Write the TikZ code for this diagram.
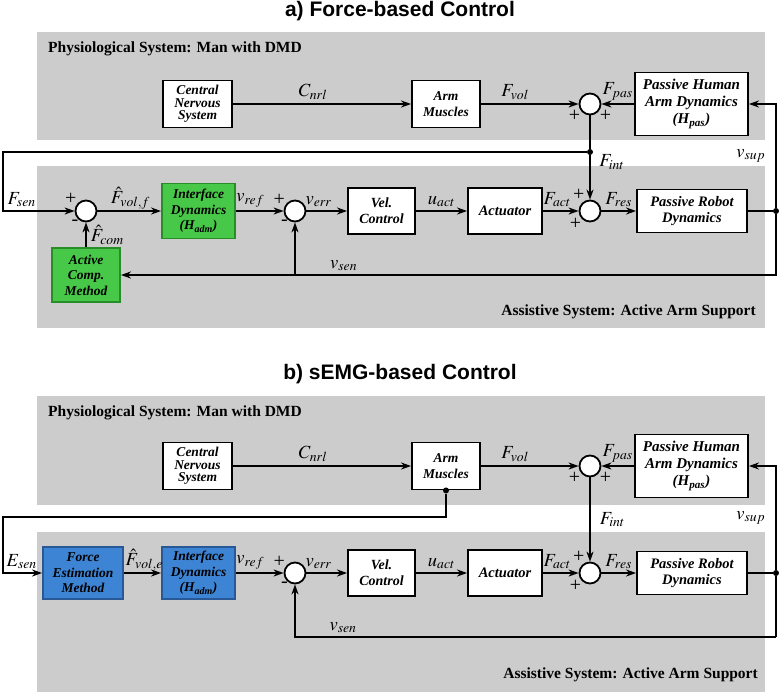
\documentclass[tikz,border=0pt]{standalone}
\usepackage{mathptmx}
\usepackage{fontspec}
\setmainfont{Liberation Serif}
\newfontfamily\boxfont{Liberation Serif}
\newfontfamily\headfont{Liberation Sans}
\usetikzlibrary{arrows.meta, positioning, calc}

\definecolor{panelgray}{RGB}{204,204,204}
\definecolor{boxgreen}{RGB}{72,200,72}
\definecolor{edgegreen}{RGB}{40,140,40}
\definecolor{boxblue}{RGB}{62,132,212}
\definecolor{edgeblue}{RGB}{40,88,150}

\begin{document}
\begin{tikzpicture}[
  x=1pt, y=-1pt,
  panel/.style = {fill=panelgray, anchor=north west, inner sep=0pt, minimum width=728pt},
  block/.style = {draw, line width=1.9pt, fill=white, align=center, inner sep=1pt,
                  font=\boxfont\bfseries\itshape\fontsize{13.5}{15.5}\selectfont},
  greenblock/.style = {block, draw=edgegreen, fill=boxgreen},
  blueblock/.style = {block, draw=edgeblue, fill=boxblue},
  sum/.style = {draw, circle, line width=1.8pt, fill=white, minimum size=21pt, inner sep=0pt},
  dot/.style = {circle, fill, inner sep=0pt, minimum size=6pt},
  sig/.style = {font=\fontsize{18.5}{18.5}\selectfont, inner sep=1pt},
  sign/.style = {font=\boxfont\fontsize{20}{20}\selectfont, inner sep=0pt},
  wire/.style = {line width=1.8pt},
  arrow/.style = {line width=1.8pt, -{Stealth[length=10pt, width=7pt]}},
  title/.style = {font=\headfont\bfseries\fontsize{21}{24}\selectfont},
  group/.style = {font=\boxfont\bfseries\fontsize{15.5}{17}\selectfont, inner sep=0pt}
]
  \useasboundingbox (0,0) rectangle (779,693);

  % a) Force-based Control
  \node[title] (title_a) at (400,11) {a) Force-based Control};
  \node[panel, minimum height=108pt] (phys_a) at (37,32) {};
  \node[panel, minimum height=162pt] (assist_a) at (37,166) {};
  \node[group, anchor=west] (physlbl_a) at (48,49) {Physiological System: Man with DMD};
  \node[group, anchor=east] (assistlbl_a) at (756,312) {Assistive System: Active Arm Support};

  % Physiological row
  \node[block, minimum width=69pt, minimum height=47pt, font=\boxfont\bfseries\itshape\fontsize{13.5}{12.5}\selectfont]
    (cns_a) at (197.5,104) {Central\\Nervous\\System};
  \node[block, minimum width=68pt, minimum height=47pt] (am_a) at (446,104) {Arm\\Muscles};
  \node[sum, label={[sign]212:+}, label={[sign]-32:+}] (s1_a) at (590,104) {};
  \node[block, minimum width=113pt, minimum height=63pt, font=\boxfont\bfseries\itshape\fontsize{15}{17}\selectfont]
    (phad_a) at (691.5,104) {Passive Human\\Arm Dynamics\\(H\textsubscript{pas})};

  % Assistive row
  \node[sum, label={[sign]145:+}, label={[sign]228:-}] (s2_a) at (86,211) {};
  \node[greenblock, minimum width=73pt, minimum height=55pt] (id_a) at (198.5,211) {Interface\\Dynamics\\(H\textsubscript{adm})};
  \node[sum, label={[sign]150:+}, label={[sign]232:-}] (s3_a) at (295,211) {};
  \node[block, minimum width=67pt, minimum height=46pt, font=\boxfont\bfseries\itshape\fontsize{14}{16}\selectfont]
    (vc_a) at (381.5,211) {Vel.\\Control};
  \node[block, minimum width=74pt, minimum height=46pt, font=\boxfont\bfseries\itshape\fontsize{14.5}{16}\selectfont]
    (act_a) at (505,211) {Actuator};
  \node[sum, label={[sign]118:+}, label={[sign]220:+}] (s4_a) at (590,211) {};
  \node[block, minimum width=110pt, minimum height=43pt, font=\boxfont\bfseries\itshape\fontsize{14.5}{16}\selectfont]
    (prd_a) at (692,211) {Passive Robot\\Dynamics};
  \node[greenblock, minimum width=68pt, minimum height=54pt] (acm_a) at (86,275) {Active\\Comp.\\Method};
  \node[dot] (out_a) at (776,211) {};
  \node[dot, label={[sig, label distance=5pt]-8:$F_{int}$}] (fint_a) at (590,152) {};
  \coordinate (corner_a) at (3,152);

  % Connections a
  \draw[arrow] (cns_a) -- (am_a) node[sig, pos=0.45, above=2pt] {$C_{nrl}$};
  \draw[arrow] (am_a) -- (s1_a) node[sig, pos=0.35, above=2pt] {$F_{vol}$};
  \draw[arrow] (phad_a) -- (s1_a) node[sig, midway, above=2pt] {$F_{pas}$};
  \draw[wire] (s1_a) -- (fint_a);
  \draw[arrow] (fint_a) -- (s4_a);
  \draw[arrow] (fint_a) -- (corner_a) |- (s2_a) node[sig, pos=0.63, above=2pt] {$F_{sen}$};
  \draw[arrow] (s2_a) -- (id_a) node[sig, pos=0.52, above=1pt, inner sep=0pt] {$\hat{F}_{vol,f}$};
  \draw[arrow] (id_a) -- (s3_a) node[sig, pos=0.3, above=2pt] {$v_{ref}$};
  \draw[arrow] (s3_a) -- (vc_a) node[sig, pos=0.3, above=2pt] {$v_{err}$};
  \draw[arrow] (vc_a) -- (act_a) node[sig, midway, above=2pt] {$u_{act}$};
  \draw[arrow] (act_a) -- (s4_a) node[sig, pos=0.4, above=2pt] {$F_{act}$};
  \draw[arrow] (s4_a) -- (prd_a) node[sig, midway, above=2pt] {$F_{res}$};
  \draw[wire] (prd_a) -- (out_a);
  \draw[arrow] (out_a) |- (phad_a) node[sig, pos=0.25, left=9pt] {$v_{sup}$};
  \draw[arrow] (out_a) |- (acm_a) node[sig, pos=0.83, above=2pt] {$v_{sen}$};
  \draw[arrow] (s3_a |- acm_a) -- (s3_a);
  \draw[arrow] (acm_a) -- (s2_a) node[sig, midway, right=4pt, inner sep=0pt] {$\hat{F}_{com}$};

  % b) sEMG-based Control
  \node[title] (title_b) at (400,374) {b) sEMG-based Control};
  \node[panel, minimum height=109pt] (phys_b) at (37,396) {};
  \node[panel, minimum height=160pt] (assist_b) at (37,532) {};
  \node[group, anchor=west] (physlbl_b) at (48,413) {Physiological System: Man with DMD};
  \node[group, anchor=east] (assistlbl_b) at (758,675) {Assistive System: Active Arm Support};

  % Physiological row
  \node[block, minimum width=69pt, minimum height=47pt, font=\boxfont\bfseries\itshape\fontsize{13.5}{12.5}\selectfont]
    (cns_b) at (197.5,466) {Central\\Nervous\\System};
  \node[block, minimum width=68pt, minimum height=47pt] (am_b) at (446,466) {Arm\\Muscles};
  \node[sum, label={[sign]212:+}, label={[sign]-32:+}] (s1_b) at (590,466) {};
  \node[block, minimum width=113pt, minimum height=63pt, font=\boxfont\bfseries\itshape\fontsize{15}{17}\selectfont]
    (phad_b) at (691.5,466) {Passive Human\\Arm Dynamics\\(H\textsubscript{pas})};
  \node[dot] (emg_b) at (am_b.south) {};
  \coordinate (esen_b) at (3,517);

  % Assistive row
  \node[blueblock, minimum width=80pt, minimum height=52pt] (fem_b) at (83,573) {Force\\Estimation\\Method};
  \node[blueblock, minimum width=73pt, minimum height=52pt] (id_b) at (198.5,573) {Interface\\Dynamics\\(H\textsubscript{adm})};
  \node[sum, label={[sign]150:+}, label={[sign]232:-}] (s3_b) at (295,573) {};
  \node[block, minimum width=67pt, minimum height=46pt, font=\boxfont\bfseries\itshape\fontsize{14}{16}\selectfont]
    (vc_b) at (381.5,573) {Vel.\\Control};
  \node[block, minimum width=74pt, minimum height=46pt, font=\boxfont\bfseries\itshape\fontsize{14.5}{16}\selectfont]
    (act_b) at (505,573) {Actuator};
  \node[sum, label={[sign]118:+}, label={[sign]220:+}] (s4_b) at (590,573) {};
  \node[block, minimum width=110pt, minimum height=43pt, font=\boxfont\bfseries\itshape\fontsize{14.5}{16}\selectfont]
    (prd_b) at (692,573) {Passive Robot\\Dynamics};
  \node[dot] (out_b) at (776,573) {};
  \coordinate (fb_b) at (776,637);

  % Connections b
  \draw[arrow] (cns_b) -- (am_b) node[sig, pos=0.45, above=2pt] {$C_{nrl}$};
  \draw[arrow] (am_b) -- (s1_b) node[sig, pos=0.35, above=2pt] {$F_{vol}$};
  \draw[arrow] (phad_b) -- (s1_b) node[sig, midway, above=2pt] {$F_{pas}$};
  \draw[arrow] (s1_b) -- (s4_b) node[sig, midway, right=8pt] {$F_{int}$};
  \draw[arrow] (emg_b) |- (esen_b) |- (fem_b) node[sig, pos=0.74, above=2pt] {$E_{sen}$};
  \draw[arrow] (fem_b) -- (id_b) node[sig, pos=0.55, above=1pt, inner sep=0pt] {$\hat{F}_{vol,e}$};
  \draw[arrow] (id_b) -- (s3_b) node[sig, pos=0.3, above=2pt] {$v_{ref}$};
  \draw[arrow] (s3_b) -- (vc_b) node[sig, pos=0.3, above=2pt] {$v_{err}$};
  \draw[arrow] (vc_b) -- (act_b) node[sig, midway, above=2pt] {$u_{act}$};
  \draw[arrow] (act_b) -- (s4_b) node[sig, pos=0.4, above=2pt] {$F_{act}$};
  \draw[arrow] (s4_b) -- (prd_b) node[sig, midway, above=2pt] {$F_{res}$};
  \draw[wire] (prd_b) -- (out_b);
  \draw[arrow] (out_b) |- (phad_b) node[sig, pos=0.25, left=9pt] {$v_{sup}$};
  \draw[wire] (out_b) -- (fb_b);
  \draw[arrow] (fb_b) -| (s3_b) node[sig, pos=0.45, above=2pt] {$v_{sen}$};

\end{tikzpicture}
\end{document}
